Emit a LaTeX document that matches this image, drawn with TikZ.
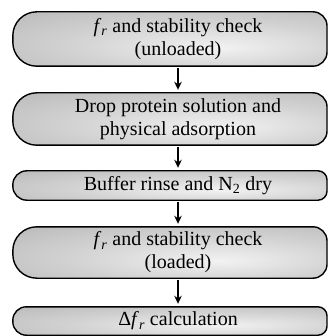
\documentclass[tikz,border=0pt]{standalone}
\usepackage{fontspec}
\setmainfont{Liberation Serif}
\usetikzlibrary{arrows.meta,backgrounds}
\definecolor{pilledge}{RGB}{176,176,176}
\definecolor{pillhalf}{RGB}{210,210,210}
\definecolor{pillmid}{RGB}{242,242,242}
\pgfdeclareradialshading{pillshade}{\pgfpoint{8bp}{-8bp}}{color(0bp)=(pillmid); color(22bp)=(pillhalf); color(50bp)=(pilledge); color(90bp)=(pilledge)}
\tikzset{
  pilltext/.style={minimum width=330pt, inner sep=0pt, align=center, font=\fontsize{20}{23}\selectfont},
  pillfill/.style={shading=pillshade, draw=black, line width=1.4pt},
  flow/.style={-{Stealth[length=8pt,width=7.5pt,inset=2.5pt]}, line width=1.7pt, shorten <=2pt, shorten >=3pt}
}
\newcommand{\pillshape}[3]{\shadedraw[pillfill] (#1.north) [rounded corners=#2] -- (#1.north west) -- (#1.south west) -- (#1.south) [rounded corners=#3] -- (#1.south -| rx) -- (#1.north -| rx) -- cycle;}
\newcommand{\fr}{\textit{f}\textsubscript{\textit{r}}}
\begin{document}
\begin{tikzpicture}[x=1pt,y=-1pt]
\useasboundingbox (0,0) rectangle (328,336);
\coordinate (rx) at (327,0);
\node[pilltext, minimum height=54pt] (b1) at (178,39) {\fr{} and stability check\\(unloaded)};
\node[pilltext, minimum height=52pt] (b2) at (178,119) {Drop protein solution and\\physical adsorption};
\node[pilltext, minimum height=29pt] (b3) at (178,185.5) {Buffer rinse and N\textsubscript{2} dry};
\node[pilltext, minimum height=51pt] (b4) at (178,252.5) {\fr{} and stability check\\(loaded)};
\node[pilltext, minimum height=28pt] (b5) at (178,321) {Δ\fr{} calculation};
\begin{scope}[on background layer]
\pillshape{b1}{24pt}{14pt}
\pillshape{b2}{24pt}{14pt}
\pillshape{b3}{14pt}{9pt}
\pillshape{b4}{24pt}{14pt}
\pillshape{b5}{13.5pt}{9pt}
\end{scope}
\draw[flow] (b1) -- (b2);
\draw[flow] (b2) -- (b3);
\draw[flow] (b3) -- (b4);
\draw[flow] (b4) -- (b5);
\end{tikzpicture}
\end{document}
